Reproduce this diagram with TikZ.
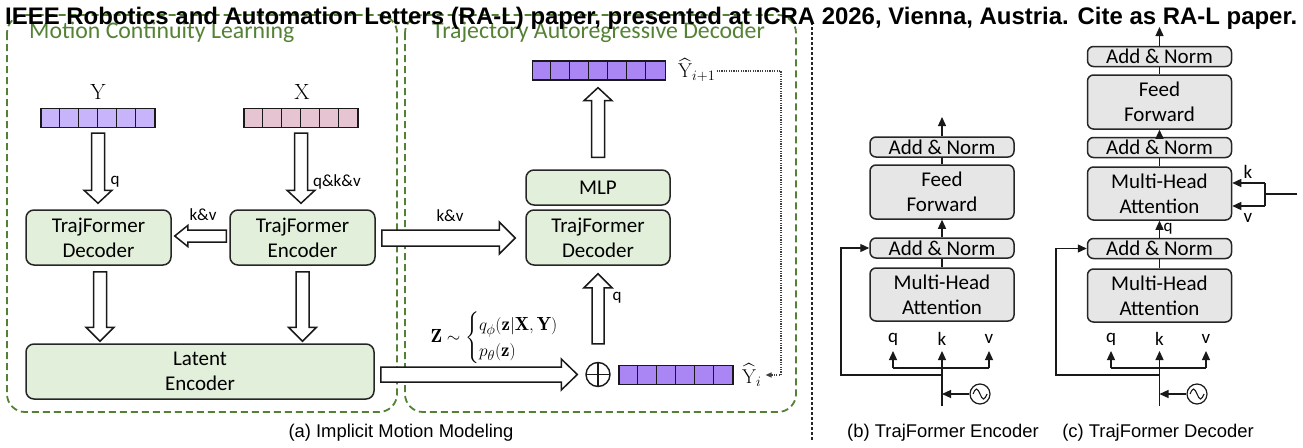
\documentclass[tikz,border=0pt]{standalone}
\usepackage{fontspec}
\usepackage{amsmath}
\usepackage{graphicx}
\usetikzlibrary{calc,arrows.meta}
\newfontfamily\carl{Carlito}
\newfontfamily\arialf{Liberation Sans}
\definecolor{boxgreen}{RGB}{226,239,218}
\definecolor{boxgray}{RGB}{231,230,230}
\definecolor{dashgreen}{RGB}{84,130,53}
\definecolor{ycell}{RGB}{200,180,250}
\definecolor{xcell}{RGB}{230,196,210}
\definecolor{yhatcell}{RGB}{169,134,243}
\newcommand\hollowarrow[5]{%
  \coordinate (hac) at ($(#2)!#5!(#1)$);
  \draw[blockarr] ($(#1)!#3!90:(#2)$) -- ($(hac)!#3!90:(#2)$) -- ($(hac)!#4!90:(#2)$) -- (#2)
     -- ($(hac)!#4!-90:(#2)$) -- ($(hac)!#3!-90:(#2)$) -- ($(#1)!#3!-90:(#2)$) -- cycle;}
\tikzset{
  greenbox/.style={draw=black!85, line width=1.5pt, rounded corners=8pt, fill=boxgreen,
     font=\carl\fontsize{21}{25}\selectfont, align=center, inner sep=0pt, minimum width=144pt},
  graybox/.style={draw=black!85, line width=1.5pt, rounded corners=6pt, fill=boxgray,
     font=\carl\fontsize{21}{25}\selectfont, align=center, inner sep=0pt, minimum width=144pt},
  blockarr/.style={draw=black!90, line width=1.5pt, fill=white, line join=miter},
  tokarr/.style={draw=black!90, line width=1.3pt, minimum height=19pt, inner sep=0pt},
  tokline/.style={draw=black!90, line width=1.2pt},
  lbl/.style={font=\carl\fontsize{17}{20}\selectfont, inner sep=0pt},
  slbl/.style={font=\carl\fontsize{19}{22}\selectfont, inner sep=0pt},
  panel/.style={draw=dashgreen, line width=1.8pt, dash pattern=on 7pt off 4pt, rounded corners=18pt},
  ptitle/.style={font=\carl\fontsize{23.8}{28}\selectfont, text=dashgreen, anchor=base west, inner sep=0pt},
  sarrow/.style={draw=black!90, line width=1.3pt, -{Triangle[length=9pt,width=8pt]}},
  sline/.style={draw=black!90, line width=1.3pt},
  capt/.style={font=\arialf\fontsize{18.4}{22}\selectfont, inner sep=0pt},
  mathlbl/.style={font=\fontsize{20}{24}\selectfont, inner sep=0pt},
  sepline/.style={draw=black!85, line width=1.2pt, dash pattern=on 3pt off 2pt},
  fbline/.style={draw=black!75, line width=1.3pt, dash pattern=on 1.2pt off 1.2pt,
     -{Triangle[length=6pt,width=5pt]}},
  oplusnode/.style={circle, draw=black!90, line width=1.4pt, minimum size=24pt, inner sep=0pt,
     path picture={\draw[line width=1.4pt] (path picture bounding box.north) -- (path picture bounding box.south)
        (path picture bounding box.west) -- (path picture bounding box.east);}},
  sinesrc/.style={circle, draw=black!90, line width=1.2pt, minimum size=20pt, inner sep=0pt,
     path picture={\draw[line width=1.1pt] ($(path picture bounding box.center)+(-7,0)$) sin
        ($(path picture bounding box.center)+(-3.5,-5)$) cos ($(path picture bounding box.center)$) sin
        ($(path picture bounding box.center)+(3.5,5)$) cos ($(path picture bounding box.center)+(7,0)$);}},
}
\begin{document}
\begin{tikzpicture}[x=1pt,y=-1pt]
\fill[white] (0,0) rectangle (1303,447);
\useasboundingbox (0,0) rectangle (1303,447);

% panels
\draw[panel] (7,15) rectangle (397,412);
\draw[panel] (405,15) rectangle (796,412);
\draw[sepline] (812,22) -- (812,440);
\node[ptitle] (t1) at (29,38) {Motion Continuity Learning};
\node[ptitle] (t2) at (432,38) {Trajectory Autoregressive Decoder};

% ---------- panel (a) left ----------
\node[mathlbl, font=\fontsize{22}{26}\selectfont] (lY) at (98,92) {$\mathrm{Y}$};
\node[mathlbl, font=\fontsize{22}{26}\selectfont] (lX) at (302,92) {$\mathrm{X}$};
\node[tokarr, fill=ycell, minimum width=114pt] (Yarr) at (98,118) {};
\foreach \k in {1,...,5} \draw[tokline] ($(Yarr.north west)+(\k*19,0)$) -- ($(Yarr.south west)+(\k*19,0)$);
\node[tokarr, fill=xcell, minimum width=114pt] (Xarr) at (301,118) {};
\foreach \k in {1,...,5} \draw[tokline] ($(Xarr.north west)+(\k*19,0)$) -- ($(Xarr.south west)+(\k*19,0)$);

\node[greenbox, minimum width=145pt, minimum height=55pt] (TDecL) at (98.5,237.5) {TrajFormer\\Decoder};
\node[greenbox, minimum width=145pt, minimum height=55pt] (TEnc) at (302.5,237.5) {TrajFormer\\Encoder};
\node[greenbox, minimum width=348pt, minimum height=55pt] (lat) at (200,371.5) {Latent\\Encoder};

\coordinate (a1s) at ($(Yarr.south)+(0,5)$);
\coordinate (a1e) at ($(Yarr.south|-TDecL.north)+(0,-6)$);
\hollowarrow{a1s}{a1e}{6.5pt}{14pt}{13pt}
\coordinate (a2s) at ($(Xarr.south)+(0,5)$);
\coordinate (a2e) at ($(Xarr.south|-TEnc.north)+(0,-6)$);
\hollowarrow{a2s}{a2e}{6.5pt}{14pt}{13pt}
\coordinate (a3s) at ($(TEnc.west)+(-3,-1.5)$);
\coordinate (a3e) at ($(TDecL.east)+(3,-1.5)$);
\hollowarrow{a3s}{a3e}{6pt}{10.5pt}{13pt}
\coordinate (a4s) at ($(TDecL.south)+(1.5,6)$);
\coordinate (a4e) at ($(TDecL.south|-lat.north)+(1.5,-2)$);
\hollowarrow{a4s}{a4e}{6.5pt}{14pt}{14pt}
\coordinate (a5s) at ($(TEnc.south)+(0,6)$);
\coordinate (a5e) at ($(TEnc.south|-lat.north)+(0,-2)$);
\hollowarrow{a5s}{a5e}{6.5pt}{14pt}{14pt}

\node[lbl] (lq1) at (115,182) {q};
\node[lbl, anchor=west] (lqkv) at (313,182) {q\&k\&v};
\node[lbl] (lkv1) at (203,215) {k\&v};

% ---------- panel (a) right ----------
\node[tokarr, fill=yhatcell, minimum width=133pt] (Yn) at (599,70.5) {};
\foreach \k in {1,...,6} \draw[tokline] ($(Yn.north west)+(\k*19,0)$) -- ($(Yn.south west)+(\k*19,0)$);
\node[mathlbl, anchor=west] (lYn) at (678,70) {$\widehat{\mathrm{Y}}_{i+1}$};
\node[greenbox, minimum height=35pt] (MLP) at (598,187.5) {MLP};
\node[greenbox, minimum height=55pt] (TDecR) at (598,237.5) {TrajFormer\\Decoder};
\node[oplusnode] (oplus) at (598,374.5) {};
\node[tokarr, fill=yhatcell, minimum width=114pt] (Yi) at (676,375) {};
\foreach \k in {1,...,5} \draw[tokline] ($(Yi.north west)+(\k*19,0)$) -- ($(Yi.south west)+(\k*19,0)$);
\node[mathlbl, anchor=west] (lYi) at (742,375) {$\widehat{\mathrm{Y}}_{i}$};

\coordinate (a6s) at ($(TEnc.east)+(6,0.5)$);
\coordinate (a6e) at ($(TDecR.west)+(-10,0.5)$);
\hollowarrow{a6s}{a6e}{8pt}{16pt}{16pt}
\coordinate (a7s) at ($(lat.east|-oplus)+(6,0)$);
\coordinate (a7e) at ($(oplus.west)+(-8,0)$);
\hollowarrow{a7s}{a7e}{7.5pt}{15.5pt}{16pt}
\coordinate (a8s) at ($(oplus.north)+(0,-18)$);
\coordinate (a8e) at ($(TDecR.south)+(0,8)$);
\hollowarrow{a8s}{a8e}{6pt}{14pt}{14pt}
\coordinate (a9s) at ($(MLP.north)+(0,-12)$);
\coordinate (a9e) at ($(MLP.north|-Yn.south)+(0,7)$);
\hollowarrow{a9s}{a9e}{6.5pt}{14pt}{13pt}

\node[lbl] (lkv2) at (450,216) {k\&v};
\node[lbl] (lq2) at (617,298) {q};
\node[inner sep=0pt, font=\fontsize{19}{22}\selectfont] (form) at (504,338)
  {\def\arraystretch{0.92}$\mathbf{Z}\sim\begin{cases} q_\phi(\mathbf{z}|\mathbf{X},\mathbf{Y})\\ p_\theta(\mathbf{z})\end{cases}$};

\coordinate (fbA) at (781,71);
\coordinate (fbB) at (781,375);
\draw[fbline] ($(lYn.east)+(1,1)$) -- (fbA) -- (fbB) -- ($(lYi.east)+(4,0)$);

% ---------- panel (b) ----------
\node[graybox, minimum height=20pt] (bAN1) at (942,147) {Add \& Norm};
\node[graybox, minimum height=54pt] (bFF) at (942,192) {Feed\\Forward};
\node[graybox, minimum height=20pt] (bAN2) at (942,248) {Add \& Norm};
\node[graybox, minimum height=53pt] (bMHA) at (942,294.5) {Multi-Head\\Attention};
\coordinate (bOut) at (942,117);
\draw[sarrow] (bAN1.north) -- (bOut);
\draw[sline] (bAN1.south) -- (bFF.north);
\draw[sarrow] (bAN2.north) -- (bFF.south);
\draw[sline] (bMHA.north) -- (bAN2.south);
\node[slbl] (bq) at (893,339) {q};
\node[slbl] (bk) at (942,339) {k};
\node[slbl] (bv) at (989,339) {v};
\coordinate (bTip) at (942,351);
\coordinate (bBot) at (942,406);
\coordinate (bQb) at (893,368);
\coordinate (bVb) at (989,368);
\draw[sline] (bQb) -- (bVb);
\draw[sarrow] (bBot) -- (bTip);
\draw[sarrow] (bQb) -- (bQb|-bTip);
\draw[sarrow] (bVb) -- (bVb|-bTip);
\coordinate (bR) at (942,375);
\coordinate (bRL) at (841,375);
\draw[sarrow] (bR) -- (bRL) |- (bAN2.west);
\node[sinesrc] (bS) at (980,394) {};
\draw[sarrow] (bS.west) -- (bS.west-|bBot);

% ---------- panel (c) ----------
\node[graybox, minimum height=20pt] (cAN1) at (1159.5,56.5) {Add \& Norm};
\node[graybox, minimum height=54pt] (cFF) at (1159.5,102) {Feed\\Forward};
\node[graybox, minimum height=20pt] (cAN2) at (1159.5,147.5) {Add \& Norm};
\node[graybox, minimum height=53pt] (cMHA2) at (1159.5,193.5) {Multi-Head\\Attention};
\node[graybox, minimum height=20pt] (cAN3) at (1159.5,248.5) {Add \& Norm};
\node[graybox, minimum height=53pt] (cMHA1) at (1159.5,295.5) {Multi-Head\\Attention};
\coordinate (cOut) at (1159.5,27);
\draw[sarrow] (cAN1.north) -- (cOut);
\draw[sline] (cAN1.south) -- (cFF.north);
\draw[sarrow] (cAN2.north) -- (cFF.south);
\draw[sline] (cMHA2.north) -- (cAN2.south);
\draw[sarrow] (cAN3.north) -- (cMHA2.south);
\node[lbl] (cqm) at (1168,229) {q};
\draw[sline] (cMHA1.north) -- (cAN3.south);
\node[slbl] (cq) at (1111,339) {q};
\node[slbl] (ck) at (1159.5,339) {k};
\node[slbl] (cv) at (1206,339) {v};
\coordinate (cTip) at (1159.5,351);
\coordinate (cBot) at (1159.5,406);
\coordinate (cQb) at (1111,368);
\coordinate (cVb) at (1206,368);
\draw[sline] (cQb) -- (cVb);
\draw[sarrow] (cBot) -- (cTip);
\draw[sarrow] (cQb) -- (cQb|-cTip);
\draw[sarrow] (cVb) -- (cVb|-cTip);
\coordinate (cR) at (1159.5,375);
\coordinate (cRL) at (1056,375);
\draw[sarrow] (cR) -- (cRL) |- (cAN3.west);
\node[sinesrc] (cS) at (1197,394) {};
\draw[sarrow] (cS.west) -- (cS.west-|cBot);
\coordinate (cIn) at (1297,194);
\coordinate (cJ) at (1265,194);
\coordinate (cJk) at (1265,183);
\coordinate (cJv) at (1265,206);
\draw[sline] (cIn) -- (cJ);
\draw[sline] (cJk) -- (cJv);
\draw[sarrow] (cJk) -- (cJk-|cMHA2.east);
\draw[sarrow] (cJv) -- (cJv-|cMHA2.east);
\node[slbl] (ckx) at (1248,172) {k};
\node[slbl] (cvx) at (1248,218) {v};

% captions
\node[capt] (capa) at (401,433) {(a) Implicit Motion Modeling};
\node[capt] (capb) at (943,433) {(b) TrajFormer Encoder};
\node[capt] (capc) at (1158,433) {(c) TrajFormer Decoder};

% header
\node[anchor=base west, inner sep=0pt, font=\arialf\bfseries\fontsize{23.6}{26}\selectfont] (hdr) at (5,24)
  {\resizebox{1292pt}{!}{IEEE Robotics and Automation Letters (RA-L) paper, presented at ICRA 2026, Vienna, Austria. Cite as RA-L paper.}};
\end{tikzpicture}
\end{document}
